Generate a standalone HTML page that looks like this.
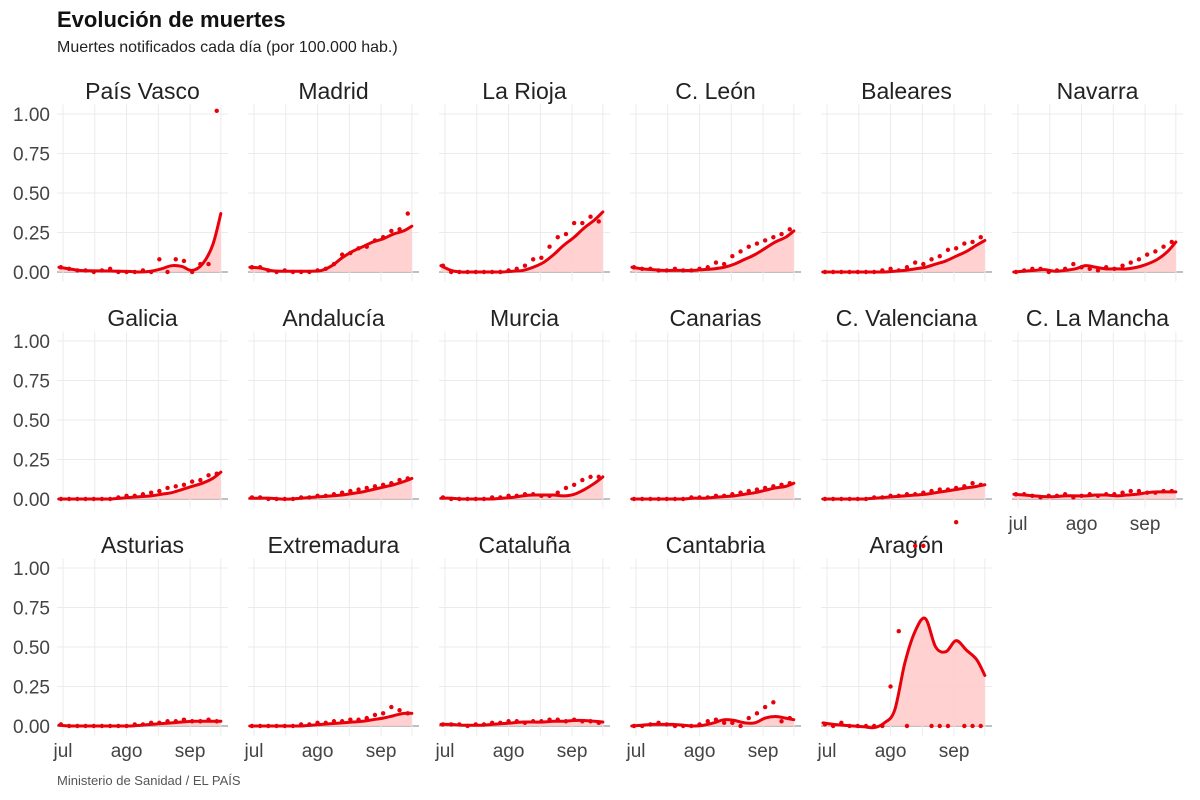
<!DOCTYPE html>
<html><head><meta charset="utf-8"><style>
body{margin:0;background:#fff;}
svg{display:block;font-family:"Liberation Sans",sans-serif;}
</style></head><body>
<svg id="chart" width="1200" height="800">
<text x="57" y="27" font-size="22" font-weight="bold" fill="#111">Evolución de muertes</text>
<text x="57" y="52" font-size="16" fill="#222">Muertes notificados cada día (por 100.000 hab.)</text>
<text x="57" y="785" font-size="13" fill="#555">Ministerio de Sanidad / EL PAÍS</text>
</svg>
<script>
const regions=["País Vasco","Madrid","La Rioja","C. León","Baleares","Navarra","Galicia","Andalucía","Murcia","Canarias","C. Valenciana","C. La Mancha","Asturias","Extremadura","Cataluña","Cantabria","Aragón"];
const knotDays=[-2,3,8,13,18,23,28,33,38,43,48,53,58,63,68,73,77];
const pointDays=[-1,3,7,11,15,19,23,27,31,35,39,43,47,51,55,59,63,67,71,75];
const yTicks=[0,0.25,0.5,0.75,1.0];
const yTickLabels=["0.00","0.25","0.50","0.75","1.00"];
const xTickDays=[0,31,62];
const xTickLabels=["jul","ago","sep"];
const smooth=[
[.03,.02,.01,.008,.007,.006,.005,.003,0,.005,.02,.04,.035,.01,.05,.17,.37],
[.03,.025,.01,.005,.005,.005,.005,.01,.04,.09,.13,.16,.19,.21,.24,.26,.29],
[.04,.01,0,0,0,0,0,.005,.01,.03,.06,.11,.17,.22,.28,.33,.38],
[.03,.02,.015,.01,.01,.01,.01,.015,.02,.03,.05,.08,.11,.15,.19,.22,.26],
[0,0,0,0,0,0,0,.005,.01,.02,.03,.05,.07,.1,.13,.17,.2],
[0,.005,.01,.015,.005,.01,.02,.04,.03,.02,.02,.02,.03,.05,.08,.13,.19],
[0,0,0,0,0,0,.005,.01,.015,.02,.03,.04,.06,.08,.1,.13,.17],
[.005,.005,.005,0,0,.005,.01,.015,.02,.025,.035,.045,.06,.075,.09,.11,.13],
[.005,.005,0,0,0,0,.005,.01,.02,.025,.025,.025,.02,.03,.06,.1,.14],
[0,0,0,0,0,0,.005,.005,.01,.015,.02,.03,.04,.055,.07,.08,.1],
[0,0,0,0,0,.005,.01,.015,.02,.025,.03,.04,.05,.06,.07,.08,.09],
[.03,.025,.02,.015,.015,.02,.02,.02,.025,.025,.02,.025,.03,.04,.045,.045,.045],
[.005,0,0,0,0,0,0,0,.005,.01,.015,.02,.025,.03,.03,.03,.03],
[0,0,0,0,0,0,.005,.01,.015,.02,.025,.03,.04,.05,.065,.08,.08],
[.01,.01,.005,.005,.005,.01,.015,.02,.025,.025,.025,.03,.03,.035,.035,.03,.025],
[0,.005,.01,.01,.01,.005,0,.005,.02,.04,.035,.02,.02,.05,.06,.05,.04],
[.02,.01,.005,0,-.005,-.01,.02,.1,.4,.6,.68,.5,.47,.54,.48,.42,.32]
];
const points=[
[.03,.02,.01,.01,0,.01,.02,0,0,0,.01,0,.08,0,.08,.07,0,.05,.05,1.02],
[.03,.03,.01,0,.01,0,0,0,.01,.02,.05,.11,.12,.15,.16,.2,.22,.26,.27,.37],
[.04,0,0,0,0,0,0,0,.01,.02,.04,.08,.09,.16,.22,.24,.31,.31,.35,.32],
[.03,.02,.02,.01,.01,.02,.01,.01,.02,.03,.06,.05,.1,.13,.16,.18,.2,.22,.24,.27],
[0,0,0,0,0,0,0,.01,.02,.01,.03,.06,.05,.08,.1,.14,.15,.18,.19,.22],
[0,.01,.02,.02,0,.01,.02,.05,.03,.02,.01,.03,.02,.04,.06,.08,.11,.13,.16,.19],
[0,0,0,0,0,0,0,.01,.02,.02,.03,.04,.05,.07,.08,.09,.11,.12,.15,.16],
[.01,.01,0,0,0,0,.01,.01,.02,.02,.03,.04,.05,.06,.07,.08,.09,.1,.12,.13],
[.01,0,0,0,0,0,.01,.01,.02,.02,.03,.03,.02,.02,.04,.07,.09,.12,.14,.14],
[0,0,0,0,0,0,0,.01,.01,.01,.02,.02,.03,.04,.05,.06,.07,.08,.09,.1],
[0,0,0,0,0,0,.01,.01,.02,.02,.03,.03,.04,.05,.06,.06,.07,.08,.1,.09],
[.03,.03,.02,.01,.02,.02,.03,.01,.02,.03,.02,.03,.03,.04,.05,.05,.04,.04,.05,.05],
[.01,0,0,0,0,0,0,0,0,.01,.01,.02,.02,.03,.03,.04,.03,.03,.04,.03],
[0,0,0,0,0,0,.01,.01,.02,.02,.03,.03,.04,.04,.05,.07,.08,.12,.1,.08],
[.01,.01,.01,0,.01,.01,.02,.02,.03,.03,.02,.03,.03,.04,.04,.03,.04,.03,.03,.02],
[0,0,.01,.02,.01,0,0,0,.01,.03,.04,.02,.02,0,.05,.08,.12,.15,.03,.05],
[.01,0,.02,0,0,0,0,0,.25,.6,0,1.14,1.14,0,0,0,1.29,0,0,0]
];
const NS="http://www.w3.org/2000/svg";
const svg=document.getElementById("chart");
function mk(tag,attrs,parent){const e=document.createElementNS(NS,tag);for(const k in attrs)e.setAttribute(k,attrs[k]);(parent||svg).appendChild(e);return e;}
function xs(day,col){return 63+col*191+day*2.05;}
function ys(v,row){return 272+row*227-v*158;}
function catmull(pts){let d="M"+pts[0][0]+","+pts[0][1];for(let i=0;i<pts.length-1;i++){const p0=pts[Math.max(i-1,0)],p1=pts[i],p2=pts[i+1],p3=pts[Math.min(i+2,pts.length-1)];const c1=[p1[0]+(p2[0]-p0[0])/6,p1[1]+(p2[1]-p0[1])/6],c2=[p2[0]-(p3[0]-p1[0])/6,p2[1]-(p3[1]-p1[1])/6];d+=" C"+c1[0]+","+c1[1]+" "+c2[0]+","+c2[1]+" "+p2[0]+","+p2[1];}return d;}
regions.forEach((name,i)=>{
  const col=i%6,row=Math.floor(i/6);
  const g=mk("g",{});
  
  
  const x0=57+col*191,x1=228+col*191;
  yTicks.forEach((t,k)=>{
    const gl=mk("line",{x1:x0,x2:x1,y1:ys(t,row),y2:ys(t,row),stroke:t===0?"#9a9a9a":"#ebebeb","stroke-width":t===0?1.2:1},g);
    
    
    if(col===0){const tl=mk("text",{x:50,y:ys(t,row)+7,"text-anchor":"end","font-size":19,fill:"#444"},g);tl.textContent=yTickLabels[k];
      
      }
  });
  [0,15.5,31,46.5,62,77].forEach(d=>{const vl=mk("line",{x1:xs(d,col),x2:xs(d,col),y1:ys(1.06,row),y2:ys(-0.06,row),stroke:"#ebebeb","stroke-width":1},g);
    
    });
  const tt=mk("text",{x:(x0+x1)/2,y:99+row*227,"text-anchor":"middle","font-size":23,fill:"#222"},g);tt.textContent=name;
  
  
  const pts=knotDays.map((d,k)=>[xs(d,col),ys(smooth[i][k],row)]);
  const line=catmull(pts);
  const area=mk("path",{d:line+" L"+pts[pts.length-1][0]+","+ys(0,row)+" L"+pts[0][0]+","+ys(0,row)+" Z",fill:"#ffcccc",opacity:0.9},g);
  
  
  points[i].forEach((v,k)=>{const c=mk("circle",{cx:xs(pointDays[k],col),cy:ys(v,row),r:2.2,fill:"#e8000b"},g);
    
    });
  const ln=mk("path",{d:line,fill:"none",stroke:"#e8000b","stroke-width":3,"stroke-linecap":"round"},g);
  
  
  if(row===2||i===11){xTickDays.forEach((d,k)=>{const xl=mk("text",{x:xs(d,col),y:757+(row-2)*227,"text-anchor":"middle","font-size":19,fill:"#444"},g);xl.textContent=xTickLabels[k];
    
    });}
});
</script>
</body></html>
